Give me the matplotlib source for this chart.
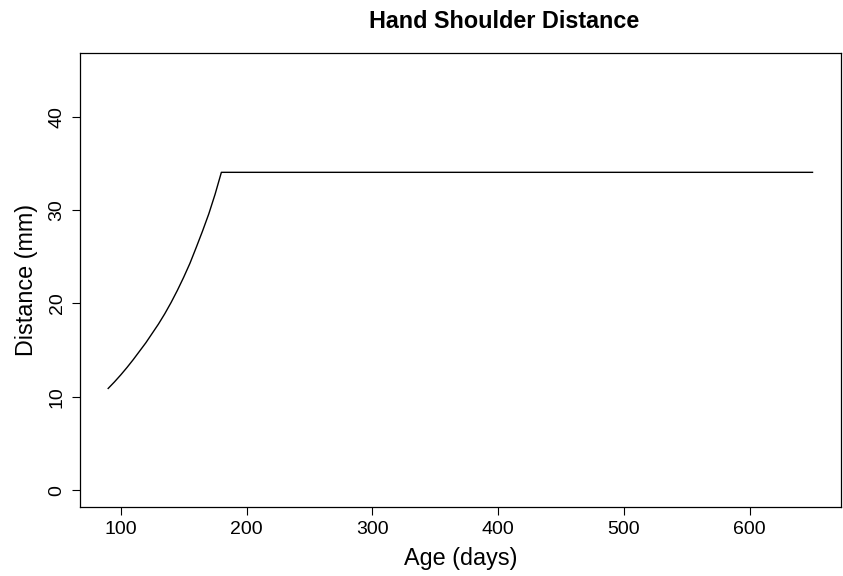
import matplotlib
matplotlib.use("Agg")
import matplotlib.pyplot as plt

age_days = [90, 95, 100, 105, 110, 115, 120, 125, 130, 135, 140, 145,
            150, 155, 160, 165, 170, 175, 180, 650]
distance_mm = [10.9, 11.6, 12.35, 13.15, 14.0, 14.9, 15.8, 16.8, 17.8, 18.9,
               20.1, 21.4, 22.8, 24.3, 26.0, 27.75, 29.6, 31.7, 34.05, 34.05]
x_ticks = [100, 200, 300, 400, 500, 600]
y_ticks = [0, 10, 20, 30, 40]

plt.rcParams['font.family'] = ['Liberation Sans', 'DejaVu Sans']

fig = plt.figure(figsize=(8.43, 5.76), dpi=100)
ax = fig.add_axes([80/843, 1-507/576, (840.7-80)/843, (507-53.3)/576])
ax.plot(age_days, distance_mm, color='black', lw=1.0)
ax.set_xlim(67.6, 672.4)
ax.set_ylim(-1.8, 46.8)
ax.set_xticks(x_ticks)
ax.set_yticks(y_ticks)
ax.set_yticklabels([str(v) for v in y_ticks], rotation=90, va='center')
ax.tick_params(axis='both', length=5.8, width=0.8, labelsize=14, pad=4.5)
for s in ax.spines.values():
    s.set_linewidth(0.9)
ax.set_xlabel('Age (days)', fontsize=16.8, labelpad=6)
ax.set_ylabel('Distance (mm)', fontsize=16.8, labelpad=8)
fig.text(504/843, 1-22/576, 'Hand Shoulder Distance', ha='center', va='center',
         fontsize=16.8, fontweight='bold')
fig.savefig('out.png', dpi=100)
